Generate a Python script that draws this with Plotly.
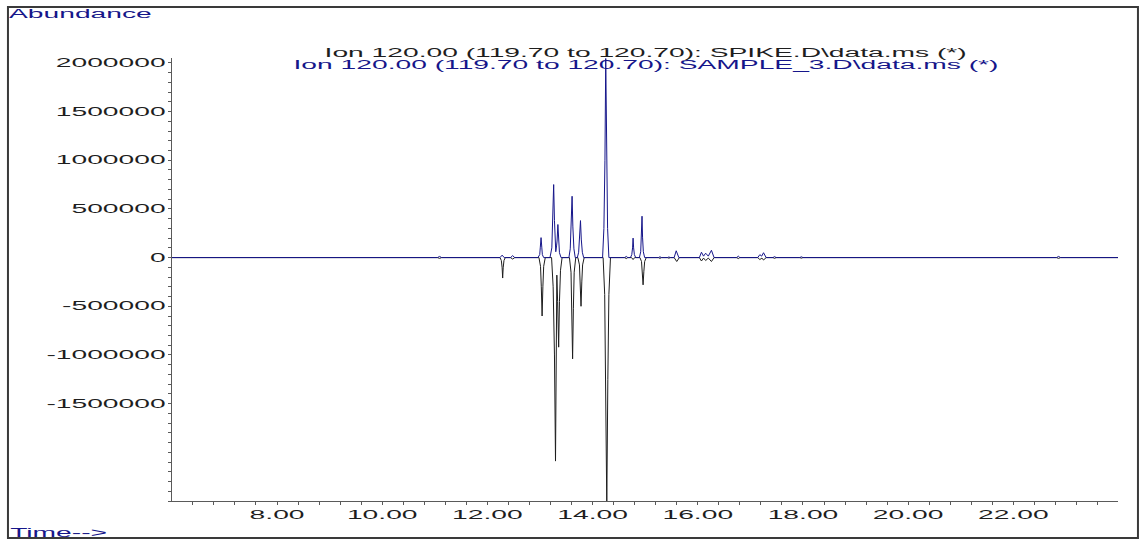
import plotly.graph_objects as go

# Extracted-ion chromatogram, m/z 120.00 (119.70 to 120.70).
# SAMPLE_3 is plotted upward, SPIKE is mirrored downward.

sample_time = [6.00, 11.05, 11.09, 11.13, 12.24, 12.28, 12.32, 12.44, 12.48, 12.52,
               12.96, 12.995, 13.005, 13.02, 13.035, 13.045, 13.07,
               13.19, 13.225, 13.245, 13.26, 13.275, 13.29, 13.30, 13.315, 13.325,
               13.34, 13.355, 13.37, 13.40,
               13.55, 13.575, 13.595, 13.61, 13.625, 13.645, 13.67,
               13.71, 13.735, 13.755, 13.77, 13.785, 13.805, 13.83,
               14.19, 14.215, 14.235, 14.25, 14.265, 14.285, 14.31,
               14.61, 14.64, 14.67,
               14.72, 14.745, 14.76, 14.77, 14.78, 14.795, 14.82,
               14.89, 14.915, 14.93, 14.94, 14.95, 14.965, 14.99,
               15.25, 15.28, 15.31, 15.42, 15.45, 15.48, 15.55, 15.59, 15.64,
               16.03, 16.07, 16.11, 16.15, 16.20, 16.26, 16.31, 16.74, 16.77, 16.80,
               17.14, 17.18, 17.215, 17.25, 17.30, 17.43, 17.46, 17.49,
               17.94, 17.97, 18.00, 22.82, 22.86, 22.90, 24.00]
sample_abundance = [0, 0, 12000, 0, 0, 25000, 0, 0, 20000, 0,
                    0, 30000, 100000, 205000, 100000, 30000, 0,
                    0, 100000, 380000, 750000, 380000, 120000, 60000, 120000, 170000,
                    340000, 170000, 50000, 0,
                    0, 90000, 315000, 630000, 315000, 90000, 0,
                    0, 55000, 190000, 380000, 190000, 55000, 0,
                    0, 300000, 1000000, 2045000, 1000000, 300000, 0,
                    0, 12000, 0,
                    0, 30000, 100000, 200000, 100000, 30000, 0,
                    0, 60000, 210000, 425000, 210000, 60000, 0,
                    0, 8000, 0, 0, 6000, 0, 0, 70000, 0,
                    0, 55000, 15000, 45000, 15000, 75000, 0, 0, 15000, 0,
                    0, 30000, 15000, 50000, 0, 0, 10000, 0,
                    0, 8000, 0, 0, 12000, 0, 0]

spike_time = [6.00, 11.05, 11.09, 11.13,
              12.24, 12.265, 12.28, 12.29, 12.30, 12.315, 12.34,
              12.44, 12.48, 12.52,
              12.98, 13.01, 13.025, 13.04, 13.055, 13.07, 13.10,
              13.22, 13.25, 13.275, 13.295, 13.31, 13.32, 13.335, 13.355, 13.37,
              13.39, 13.42,
              13.56, 13.59, 13.605, 13.62, 13.635, 13.65, 13.68,
              13.72, 13.75, 13.765, 13.78, 13.795, 13.81, 13.84,
              14.20, 14.23, 14.25, 14.27, 14.29, 14.31, 14.34,
              14.61, 14.64, 14.67, 14.74, 14.77, 14.80,
              14.90, 14.93, 14.945, 14.96, 14.975, 14.99, 15.02,
              15.25, 15.28, 15.31, 15.42, 15.45, 15.48, 15.55, 15.60, 15.65,
              16.03, 16.07, 16.11, 16.15, 16.20, 16.26, 16.31, 16.74, 16.77, 16.80,
              17.14, 17.18, 17.22, 17.25, 17.30, 17.43, 17.46, 17.49,
              17.94, 17.97, 18.00, 22.82, 22.86, 22.90, 24.00]
spike_abundance = [0, 0, -8000, 0,
                   0, -30000, -105000, -210000, -105000, -30000, 0,
                   0, -15000, 0,
                   0, -90000, -300000, -600000, -300000, -90000, 0,
                   0, -300000, -1000000, -2090000, -700000, -180000, -450000, -920000, -450000,
                   -130000, 0,
                   0, -150000, -520000, -1040000, -520000, -150000, 0,
                   0, -75000, -250000, -500000, -250000, -75000, 0,
                   0, -380000, -1250000, -2550000, -1250000, -380000, 0,
                   0, -10000, 0, 0, -20000, 0,
                   0, -40000, -140000, -280000, -140000, -40000, 0,
                   0, -8000, 0, 0, -6000, 0, 0, -40000, 0,
                   0, -35000, -5000, -30000, -5000, -40000, 0, 0, -10000, 0,
                   0, -20000, -5000, -25000, 0, 0, -8000, 0,
                   0, -6000, 0, 0, -8000, 0, 0]

y_tick_values = [-1500000, -1000000, -500000, 0, 500000, 1000000, 1500000, 2000000]
y_tick_labels = ["-1500000", "-1000000", "-500000", "0", "500000", "1000000", "1500000", "2000000"]

spike_title = "Ion 120.00 (119.70 to 120.70): SPIKE.D\\data.ms (*)"
sample_title = "Ion 120.00 (119.70 to 120.70): SAMPLE_3.D\\data.ms (*)"

NAVY = "#16168a"
INK = "#1e1e1e"
AXIS = "#5a5a5a"
FONT = "Liberation Sans"

fig = go.Figure()
fig.add_trace(go.Scatter(x=spike_time, y=spike_abundance, mode="lines",
                         line=dict(color=INK, width=1), name="SPIKE",
                         hoverinfo="skip"))
fig.add_trace(go.Scatter(x=sample_time, y=sample_abundance, mode="lines",
                         line=dict(color=NAVY, width=1), name="SAMPLE_3",
                         hoverinfo="skip"))

fig.update_layout(
    width=1144, height=540,
    margin=dict(l=172, r=26, t=58, b=39),
    paper_bgcolor="white", plot_bgcolor="white",
    showlegend=False,
    font=dict(family=FONT, size=12, color=INK),
    xaxis=dict(range=[6.003, 23.99], tickmode="linear", tick0=8, dtick=2,
               tickformat=".2f", showgrid=False, zeroline=False,
               showline=True, linecolor=AXIS, linewidth=1,
               ticks="outside", ticklen=3, tickcolor=AXIS,
               tickfont=dict(family=FONT, size=12, color=INK),
               minor=dict(tick0=6, dtick=0.4, ticks="outside", ticklen=3,
                          tickcolor=AXIS, showgrid=False),
               automargin=False, fixedrange=True),
    yaxis=dict(range=[-2500000, 2050000], tickmode="array",
               tickvals=y_tick_values, ticktext=y_tick_labels,
               showgrid=False, zeroline=False,
               showline=True, linecolor=AXIS, linewidth=1,
               ticks="outside", ticklen=3, tickcolor=AXIS,
               tickfont=dict(family=FONT, size=12, color=INK),
               minor=dict(tick0=0, dtick=100000, ticks="outside", ticklen=3,
                          tickcolor=AXIS, showgrid=False),
               automargin=False, fixedrange=True),
    annotations=[
        dict(text="Abundance", xref="paper", yref="paper", x=-0.0962, y=1.0993,
             xanchor="center", yanchor="middle", showarrow=False,
             font=dict(family=FONT, size=12, color=NAVY)),
        dict(text="Time-->", xref="paper", yref="paper", x=-0.1205, y=-0.072,
             xanchor="center", yanchor="middle", showarrow=False,
             font=dict(family=FONT, size=12, color=NAVY)),
        dict(text=spike_title, xref="paper", yref="paper", x=0.5005, y=1.0113,
             xanchor="center", yanchor="middle", showarrow=False,
             font=dict(family=FONT, size=12, color=INK)),
        dict(text=sample_title, xref="paper", yref="paper", x=0.5010, y=0.9842,
             xanchor="center", yanchor="middle", showarrow=False,
             font=dict(family=FONT, size=12, color=NAVY)),
    ],
    shapes=[
        dict(type="rect", xref="paper", yref="paper",
             x0=-0.1734, x1=1.0211, y0=-0.0835, y1=1.1151,
             line=dict(color="#3a3a3a", width=2), fillcolor="rgba(0,0,0,0)",
             layer="above"),
    ],
)

# The instrument printout uses horizontally widened lettering; widen every
# label in place, keeping its anchor point.
widen_text = """
var gd = document.getElementById('{plot_id}');
gd.querySelectorAll('svg text').forEach(function (t) {
  var w = t.getComputedTextLength();
  if (w > 0) {
    t.setAttribute('textLength', (w * 2.35).toFixed(1));
    t.setAttribute('lengthAdjust', 'spacingAndGlyphs');
  }
});
"""

fig.write_html("out.html", config={"displayModeBar": False, "staticPlot": True},
               post_script=widen_text)
